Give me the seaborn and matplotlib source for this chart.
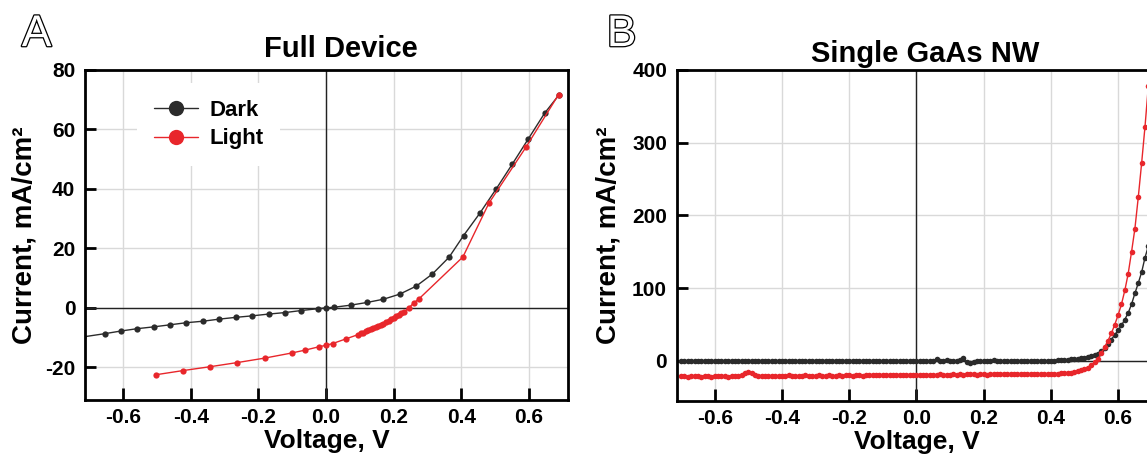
import numpy as np
import pandas as pd
import matplotlib
matplotlib.use("Agg")
import matplotlib.pyplot as plt
import matplotlib.patheffects as pe
import seaborn as sns

# PANEL A - full device
dark_a_v = [-0.720, -0.655, -0.607, -0.558, -0.510, -0.461, -0.413, -0.364, -0.316, -0.267,
            -0.219, -0.170, -0.122, -0.073, -0.025, 0.000, 0.024, 0.073, 0.121, 0.170,
            0.218, 0.267, 0.315, 0.364, 0.407, 0.455, 0.503, 0.551, 0.599, 0.647, 0.690]
dark_a_i = [-9.8, -8.7, -7.8, -7.0, -6.4, -5.7, -5.0, -4.5, -3.8, -3.2,
            -2.7, -2.1, -1.6, -0.9, -0.3, 0.0, 0.2, 0.9, 1.8, 2.9,
            4.6, 7.3, 11.4, 17.0, 24.3, 31.8, 39.9, 48.3, 56.9, 65.5, 71.7]

light_a_v = [-0.503, -0.423, -0.343, -0.262, -0.181, -0.102, -0.061, -0.021, 0.000, 0.020,
             0.060, 0.095, 0.103, 0.110, 0.118, 0.125, 0.133, 0.140, 0.148, 0.155,
             0.163, 0.170, 0.178, 0.185, 0.193, 0.200, 0.208, 0.215, 0.222, 0.232,
             0.246, 0.260, 0.274, 0.405, 0.482, 0.592, 0.688]
light_a_i = [-22.5, -21.1, -19.8, -18.4, -16.9, -15.2, -14.2, -13.1, -12.6, -12.0,
             -10.4, -9.0, -8.6, -8.3, -7.9, -7.6, -7.2, -6.8, -6.5, -6.1,
             -5.7, -5.3, -4.9, -4.4, -3.9, -3.4, -2.9, -2.4, -1.9, -1.3,
             0.1, 1.7, 2.9, 17.1, 35.2, 54.1, 71.7]

# PANEL B - single nanowire, 10 mV steps
nw_v = [-0.70, -0.69, -0.68, -0.67, -0.66, -0.65, -0.64, -0.63, -0.62, -0.61,
        -0.60, -0.59, -0.58, -0.57, -0.56, -0.55, -0.54, -0.53, -0.52, -0.51,
        -0.50, -0.49, -0.48, -0.47, -0.46, -0.45, -0.44, -0.43, -0.42, -0.41,
        -0.40, -0.39, -0.38, -0.37, -0.36, -0.35, -0.34, -0.33, -0.32, -0.31,
        -0.30, -0.29, -0.28, -0.27, -0.26, -0.25, -0.24, -0.23, -0.22, -0.21,
        -0.20, -0.19, -0.18, -0.17, -0.16, -0.15, -0.14, -0.13, -0.12, -0.11,
        -0.10, -0.09, -0.08, -0.07, -0.06, -0.05, -0.04, -0.03, -0.02, -0.01,
        0.00, 0.01, 0.02, 0.03, 0.04, 0.05, 0.06, 0.07, 0.08, 0.09,
        0.10, 0.11, 0.12, 0.13, 0.14, 0.15, 0.16, 0.17, 0.18, 0.19,
        0.20, 0.21, 0.22, 0.23, 0.24, 0.25, 0.26, 0.27, 0.28, 0.29,
        0.30, 0.31, 0.32, 0.33, 0.34, 0.35, 0.36, 0.37, 0.38, 0.39,
        0.40, 0.41, 0.42, 0.43, 0.44, 0.45, 0.46, 0.47, 0.48, 0.49,
        0.50, 0.51, 0.52, 0.53, 0.54, 0.55, 0.56, 0.57, 0.58, 0.59,
        0.60, 0.61, 0.62, 0.63, 0.64, 0.65, 0.66, 0.67, 0.68, 0.69,
        0.70]
dark_b_i = [0.5, -0.3, 0.2, -0.5, 0.4, -0.2, 0.6, -0.4, 0.1, -0.3,
            0.3, -0.6, 0.2, 0.5, -0.2, 0.4, -0.5, 0.1, 0.6, -0.3,
            0.2, -0.4, 0.5, -0.1, 0.3, -0.6, 0.2, 0.4, -0.3, 0.1,
            -0.5, 0.3, 0.6, -0.2, 0.1, -0.4, 0.5, -0.1, 0.3, -0.5,
            0.4, 0.1, -0.3, 0.6, -0.2, 0.2, -0.5, 0.4, 0.0, -0.3,
            0.5, -0.2, 0.3, -0.4, 0.6, 0.1, -0.3, 0.2, -0.5, 0.4,
            -0.1, 0.3, -0.4, 0.5, 0.0, -0.2, 0.4, -0.3, 0.2, 0.6,
            0.3, -0.2, 0.5, 0.1, -0.4, 0.6, 2.8, 0.4, -0.3, 0.8,
            0.2, 0.6, -0.3, 0.9, 3.5, -1.2, -2.4, -0.8, 0.3, -0.6,
            0.4, -0.5, 0.2, 0.7, -0.3, 0.5, 0.1, -0.4, 0.6, 0.2,
            -0.3, 0.4, 0.0, 0.6, -0.4, 0.3, -0.2, 0.5, 0.1, 0.4,
            0.6, 0.5, 0.9, 1.0, 1.3, 1.7, 2.1, 2.6, 3.2, 3.9,
            4.5, 5.5, 6.6, 8.0, 10.2, 13.2, 17.5, 23.0, 29.5, 36.0,
            42.0, 49.0, 57.0, 66.0, 78.0, 93.0, 107.0, 122.0, 142.0, 158.0,
            175.0]
light_b_i = [-21.0, -20.5, -21.5, -20.2, -21.2, -20.8, -21.6, -20.4, -21.0, -21.4,
             -20.6, -21.3, -20.2, -21.0, -21.5, -20.7, -20.3, -21.2, -19.5, -17.0,
             -14.8, -16.5, -19.8, -20.5, -20.0, -20.8, -20.3, -20.9, -20.1, -20.6,
             -20.2, -20.8, -19.9, -20.5, -20.0, -20.7, -20.2, -19.8, -20.4, -20.0,
             -20.6, -19.9, -20.3, -20.1, -19.6, -20.4, -20.0, -19.7, -20.3, -19.9,
             -19.6, -20.2, -19.8, -19.4, -20.0, -19.5, -19.9, -19.3, -19.8, -19.5,
             -19.0, -19.6, -19.2, -19.7, -19.1, -19.5, -18.9, -19.4, -19.0, -19.6,
             -19.4, -19.8, -19.2, -19.0, -18.8, -19.3, -18.9, -18.6, -19.1, -18.7,
             -18.9, -18.5, -18.8, -18.4, -18.9, -18.3, -18.6, -18.2, -18.7, -18.4,
             -18.3, -18.7, -18.2, -18.5, -18.1, -18.6, -18.2, -18.0, -18.4, -18.1,
             -18.3, -17.9, -18.2, -17.8, -18.1, -17.7, -18.0, -17.6, -17.9, -17.5,
             -17.6, -17.3, -17.5, -17.0, -16.8, -16.4, -15.9, -15.2, -14.3, -13.0,
             -11.3, -9.0, -6.0, -2.0, 3.0, 10.5, 19.0, 28.0, 38.0, 50.0,
             63.0, 78.0, 97.0, 120.0, 150.0, 182.0, 225.0, 272.0, 322.0, 378.0,
             432.0]

x_ticks = [-0.6, -0.4, -0.2, 0.0, 0.2, 0.4, 0.6]
a_yticks = [-20, 0, 20, 40, 60, 80]
b_yticks = [0, 100, 200, 300, 400]

DARK = "#2b2b2b"
RED = "#e8262b"

sns.set_theme(style="ticks")
plt.rcParams["font.family"] = ["Liberation Sans", "DejaVu Sans"]
plt.rcParams["font.weight"] = "bold"
plt.rcParams["axes.labelweight"] = "bold"
plt.rcParams["axes.titleweight"] = "bold"
plt.rcParams["axes.unicode_minus"] = False
for key in ["text.color", "axes.labelcolor", "xtick.color", "ytick.color"]:
    plt.rcParams[key] = "black"

fig = plt.figure(figsize=(11.47, 4.61), dpi=100)
ax_a = fig.add_axes([0.0741, 0.1323, 0.4211, 0.7159])
ax_b = fig.add_axes([0.5900, 0.1302, 0.4188, 0.7180])


def style_axes(ax, yticks, ylim):
    ax.set_xlim(-0.713, 0.716)
    ax.set_ylim(*ylim)
    ax.set_xticks(x_ticks)
    ax.set_xticklabels([f"{t:.1f}" for t in x_ticks])
    ax.set_yticks(yticks)
    ax.grid(True, color="#d9d9d9", linewidth=1.0, zorder=0)
    ax.axhline(0, color="#222222", linewidth=1.0, zorder=1)
    ax.axvline(0, color="#222222", linewidth=1.0, zorder=1)
    for sp in ax.spines.values():
        sp.set_linewidth(2.0)
        sp.set_color("black")
        sp.set_zorder(5)
    ax.tick_params(axis="x", direction="in", length=9, width=2, pad=6, labelsize=15)
    ax.tick_params(axis="y", direction="in", length=8, width=2, pad=7, labelsize=15)
    ax.set_xlabel("Voltage, V", fontsize=19, labelpad=1)
    ax.set_ylabel("Current, mA/cm\u00b2", fontsize=20)


# panel A
sns.lineplot(x=dark_a_v, y=dark_a_i, ax=ax_a, color=DARK, marker="o", markersize=4.5,
             markeredgewidth=0, linewidth=1.0, sort=False, label="Dark", zorder=3)
sns.lineplot(x=light_a_v, y=light_a_i, ax=ax_a, color=RED, marker="o", markersize=4.5,
             markeredgewidth=0, linewidth=1.0, sort=False, label="Light", zorder=4)
style_axes(ax_a, a_yticks, (-31, 80))
ax_a.set_title("Full Device", fontsize=21, pad=9, x=0.53)
ax_a.yaxis.set_label_coords(-0.099, 0.5)
leg = ax_a.legend(loc="upper left", bbox_to_anchor=(0.108, 0.961), borderaxespad=0,
                  frameon=True, fancybox=False, framealpha=1, edgecolor="none",
                  facecolor="white", fontsize=16, borderpad=0.75, labelspacing=0.35,
                  handlelength=2.0, handletextpad=0.5)
for h in leg.legend_handles:
    h.set_markersize(11)
leg.set_zorder(6)

# panel B
sns.lineplot(x=nw_v, y=dark_b_i, ax=ax_b, color=DARK, marker="o", markersize=4,
             markeredgewidth=0, linewidth=1.0, sort=False, zorder=3, legend=False)
sns.lineplot(x=nw_v, y=light_b_i, ax=ax_b, color=RED, marker="o", markersize=4,
             markeredgewidth=0, linewidth=1.0, sort=False, zorder=4, legend=False)
style_axes(ax_b, b_yticks, (-55, 400))
ax_b.set_title("Single GaAs NW", fontsize=21, pad=6, x=0.517)
ax_b.yaxis.set_label_coords(-0.116, 0.5)

# hollow panel letters
for txt, xf in [("A", 0.019), ("B", 0.529)]:
    fig.text(xf, 0.900, txt, fontsize=32, fontweight="normal", color="white",
             ha="left", va="baseline",
             path_effects=[pe.withStroke(linewidth=1.8, foreground="black")])

fig.savefig("out.png", dpi=100)
